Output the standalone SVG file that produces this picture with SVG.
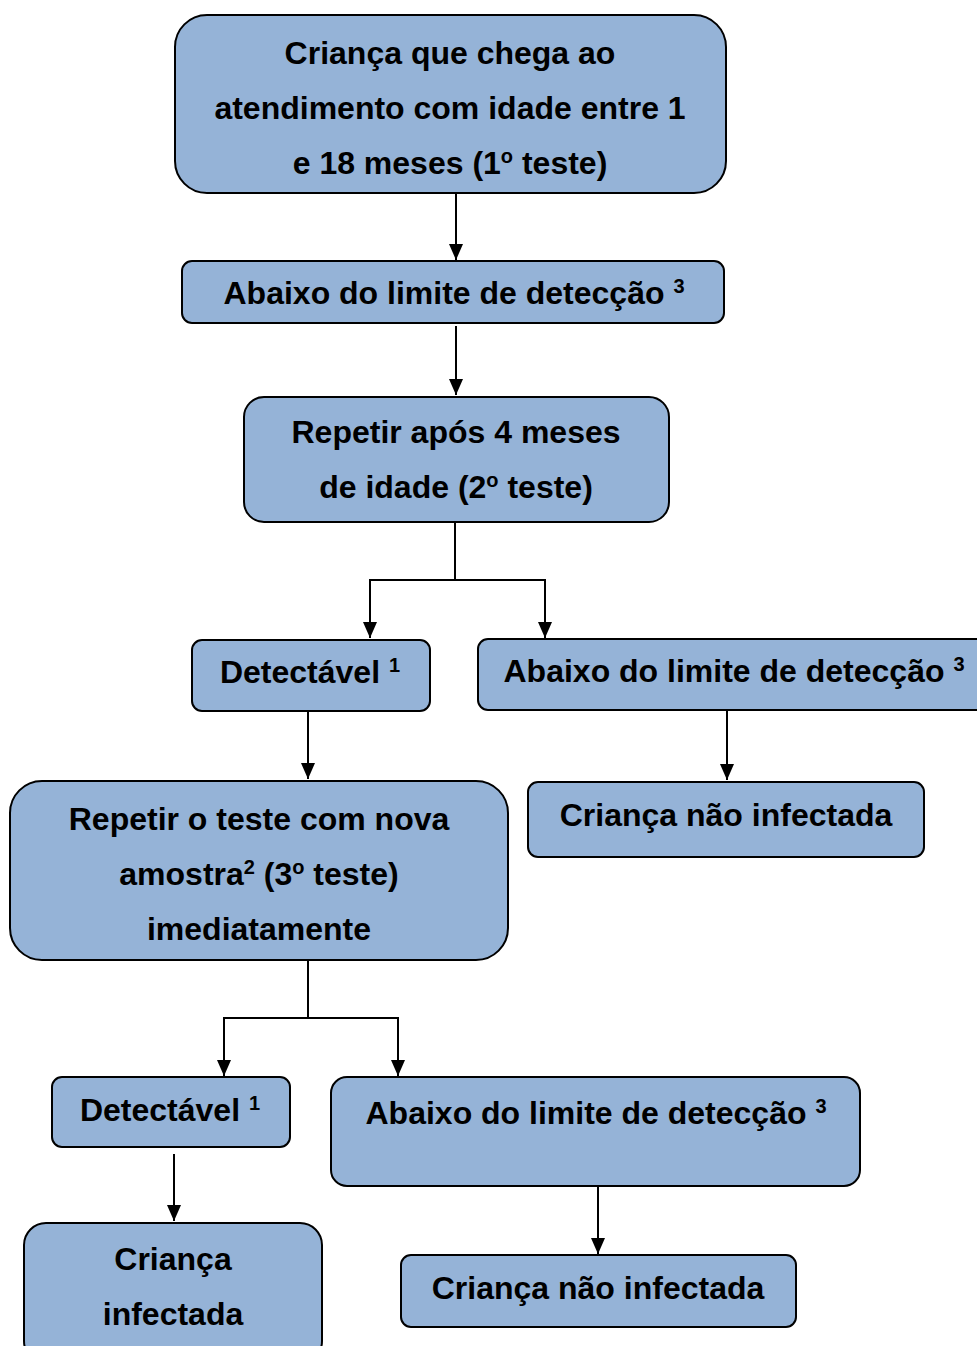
<svg xmlns="http://www.w3.org/2000/svg" width="977" height="1346" viewBox="0 0 977 1346">
<style>
.box{fill:#95B3D7;stroke:#000;stroke-width:2}
.t{font-family:"Liberation Sans",Arial,sans-serif;font-weight:bold;font-size:32px;fill:#000;text-anchor:middle}
.sup{font-size:20px}
.c{fill:none;stroke:#000;stroke-width:2}
</style>
<defs>
<marker id="arr" markerUnits="userSpaceOnUse" markerWidth="16" markerHeight="14" refX="16" refY="7" orient="auto" viewBox="0 0 16 14">
<path d="M0,0 L16,7 L0,14 z" fill="#000"/>
</marker>
</defs>
<rect width="977" height="1346" fill="#fff"/>
<g id="connectors">
<path class="c" d="M456,194 V260" marker-end="url(#arr)"/>
<path class="c" d="M456,326 V395" marker-end="url(#arr)"/>
<path class="c" d="M455,523 V580 H370 V638" marker-end="url(#arr)"/>
<path class="c" d="M455,580 H545 V638" marker-end="url(#arr)"/>
<path class="c" d="M308,712 V779" marker-end="url(#arr)"/>
<path class="c" d="M727,711 V780" marker-end="url(#arr)"/>
<path class="c" d="M308,961 V1018 H224 V1076" marker-end="url(#arr)"/>
<path class="c" d="M308,1018 H398 V1076" marker-end="url(#arr)"/>
<path class="c" d="M174,1154 V1221" marker-end="url(#arr)"/>
<path class="c" d="M598,1187 V1254" marker-end="url(#arr)"/>
</g>
<g id="n1">
<rect class="box" x="175" y="15" width="551" height="178" rx="32"/>
<text class="t" x="450" y="64">Criança que chega ao</text>
<text class="t" x="450" y="119">atendimento com idade entre 1</text>
<text class="t" x="450" y="174">e 18 meses (1<tspan class="sup" dy="-11">o</tspan><tspan dy="11"> teste)</tspan></text>
</g>
<g id="n2">
<rect class="box" x="182" y="261" width="542" height="62" rx="10"/>
<text class="t" x="454" y="304">Abaixo do limite de detecção <tspan class="sup" dy="-11">3</tspan></text>
</g>
<g id="n3">
<rect class="box" x="244" y="397" width="425" height="125" rx="20"/>
<text class="t" x="456" y="443">Repetir após 4 meses</text>
<text class="t" x="456" y="498">de idade (2<tspan class="sup" dy="-11">o</tspan><tspan dy="11"> teste)</tspan></text>
</g>
<g id="n4">
<rect class="box" x="192" y="640" width="238" height="71" rx="10"/>
<text class="t" x="310" y="683">Detectável <tspan class="sup" dy="-11">1</tspan></text>
</g>
<g id="n5">
<rect class="box" x="478" y="639" width="514" height="71" rx="10"/>
<text class="t" x="734" y="682">Abaixo do limite de detecção <tspan class="sup" dy="-11">3</tspan></text>
</g>
<g id="n6">
<rect class="box" x="528" y="782" width="396" height="75" rx="10"/>
<text class="t" x="726" y="826">Criança não infectada</text>
</g>
<g id="n7">
<rect class="box" x="10" y="781" width="498" height="179" rx="32"/>
<text class="t" x="259" y="830">Repetir o teste com nova</text>
<text class="t" x="259" y="885">amostra<tspan class="sup" dy="-11">2</tspan><tspan dy="11"> (3</tspan><tspan class="sup" dy="-11">o</tspan><tspan dy="11"> teste)</tspan></text>
<text class="t" x="259" y="940">imediatamente</text>
</g>
<g id="n8">
<rect class="box" x="52" y="1077" width="238" height="70" rx="10"/>
<text class="t" x="170" y="1121">Detectável <tspan class="sup" dy="-11">1</tspan></text>
</g>
<g id="n9">
<rect class="box" x="331" y="1077" width="529" height="109" rx="16"/>
<text class="t" x="596" y="1124">Abaixo do limite de detecção <tspan class="sup" dy="-11">3</tspan></text>
</g>
<g id="n10">
<rect class="box" x="24" y="1223" width="298" height="140" rx="22"/>
<text class="t" x="173" y="1270">Criança</text>
<text class="t" x="173" y="1325">infectada</text>
</g>
<g id="n11">
<rect class="box" x="401" y="1255" width="395" height="72" rx="10"/>
<text class="t" x="598" y="1299">Criança não infectada</text>
</g>
</svg>
